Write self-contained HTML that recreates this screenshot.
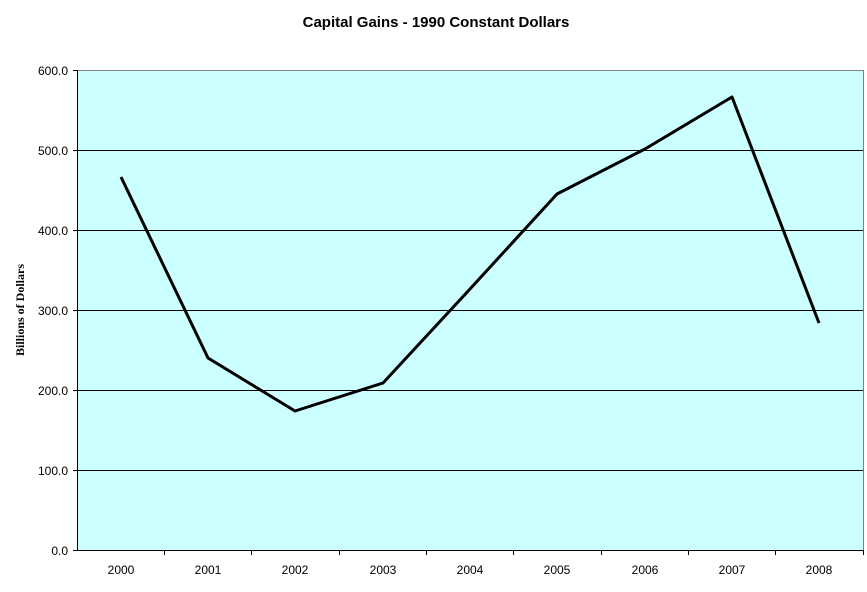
<!DOCTYPE html>
<html><head><style>body{margin:0;background:#fff}svg{display:block}</style></head><body>
<svg width="867" height="592" xmlns="http://www.w3.org/2000/svg" font-family="Liberation Sans, Arial, sans-serif">
<text x="436" y="27" text-anchor="middle" font-size="15" font-weight="bold">Capital Gains - 1990 Constant Dollars</text>
<rect x="77.5" y="70.5" width="786" height="480" fill="#ccffff" stroke="#808080"/>
<g stroke="#000" stroke-width="1">
<line x1="77" y1="150.5" x2="863" y2="150.5"/><line x1="77" y1="230.5" x2="863" y2="230.5"/>
<line x1="77" y1="310.5" x2="863" y2="310.5"/><line x1="77" y1="390.5" x2="863" y2="390.5"/>
<line x1="77" y1="470.5" x2="863" y2="470.5"/>
<line x1="77.5" y1="70" x2="77.5" y2="551"/><line x1="73" y1="550.5" x2="864" y2="550.5"/>
<line x1="73" y1="70.5" x2="77" y2="70.5"/><line x1="73" y1="150.5" x2="77" y2="150.5"/><line x1="73" y1="230.5" x2="77" y2="230.5"/><line x1="73" y1="310.5" x2="77" y2="310.5"/><line x1="73" y1="390.5" x2="77" y2="390.5"/><line x1="73" y1="470.5" x2="77" y2="470.5"/>
<line x1="164.5" y1="550" x2="164.5" y2="555"/><line x1="251.5" y1="550" x2="251.5" y2="555"/><line x1="339.5" y1="550" x2="339.5" y2="555"/><line x1="426.5" y1="550" x2="426.5" y2="555"/><line x1="513.5" y1="550" x2="513.5" y2="555"/><line x1="601.5" y1="550" x2="601.5" y2="555"/><line x1="688.5" y1="550" x2="688.5" y2="555"/><line x1="775.5" y1="550" x2="775.5" y2="555"/><line x1="863.5" y1="550" x2="863.5" y2="555"/>
</g>
<g font-size="12" text-anchor="end">
<text x="68" y="75">600.0</text><text x="68" y="155">500.0</text><text x="68" y="235">400.0</text><text x="68" y="315">300.0</text><text x="68" y="395">200.0</text><text x="68" y="475">100.0</text><text x="68" y="555">0.0</text>
</g>
<g font-size="12" text-anchor="middle">
<text x="121" y="574">2000</text><text x="208" y="574">2001</text><text x="295" y="574">2002</text><text x="383" y="574">2003</text><text x="470" y="574">2004</text><text x="557" y="574">2005</text><text x="645" y="574">2006</text><text x="732" y="574">2007</text><text x="819" y="574">2008</text>
</g>
<text transform="translate(24,310) rotate(-90)" text-anchor="middle" font-size="12" font-weight="bold" font-family="Liberation Serif, serif">Billions of Dollars</text>
<polyline fill="none" stroke="#000" stroke-width="3" stroke-linejoin="round" points="121,177 208,358 295,411 383,383 470,289 557,194 645,149 732,97 819,323"/>
</svg>
</body></html>
